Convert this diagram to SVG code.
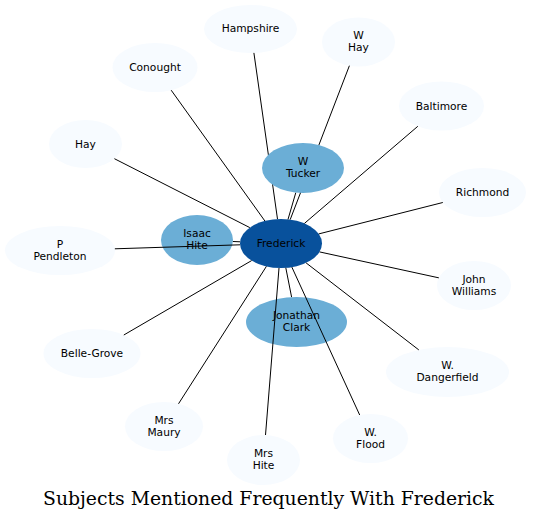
<svg xmlns="http://www.w3.org/2000/svg" width="537" height="521" viewBox="0 0 537 521">
<style>
.n text{font-family:"DejaVu Sans",sans-serif;font-size:10.67px;text-anchor:middle;fill:#000}
.light ellipse{fill:#f7fbff}
.mid ellipse{fill:#6baed6}
.dark ellipse{fill:#08519c}
#connectors line{stroke:#000;stroke-width:1}
.title{font-family:"DejaVu Serif",serif;font-size:18.5px;text-anchor:middle;fill:#000}
</style>
<rect width="537" height="521" fill="#fff"/>
<g id="node-hampshire" class="n light"><ellipse cx="250.5" cy="29" rx="46.5" ry="24"/><text x="250.5" y="32">Hampshire</text></g>
<g id="node-conought" class="n light"><ellipse cx="155" cy="67.5" rx="42.5" ry="24.5"/><text x="155" y="71">Conought</text></g>
<g id="node-hay" class="n light"><ellipse cx="85.5" cy="144" rx="36.5" ry="24"/><text x="85.5" y="147.5">Hay</text></g>
<g id="node-ppendleton" class="n light"><ellipse cx="60" cy="250.5" rx="55" ry="24.5"/><text x="60" y="247.5">P</text><text x="60" y="259.5">Pendleton</text></g>
<g id="node-bellegrove" class="n light"><ellipse cx="92" cy="353.5" rx="48.5" ry="24.5"/><text x="92" y="357">Belle-Grove</text></g>
<g id="node-mrsmaury" class="n light"><ellipse cx="164" cy="426.5" rx="39" ry="24.5"/><text x="164" y="423.5">Mrs</text><text x="164" y="435.5">Maury</text></g>
<g id="node-mrshite" class="n light"><ellipse cx="263.5" cy="460" rx="36.5" ry="25"/><text x="263.5" y="457">Mrs</text><text x="263.5" y="469">Hite</text></g>
<g id="node-wflood" class="n light"><ellipse cx="370.5" cy="438.5" rx="37.5" ry="24.5"/><text x="370.5" y="435.5">W.</text><text x="370.5" y="447.5">Flood</text></g>
<g id="node-wdangerfield" class="n light"><ellipse cx="447.5" cy="372" rx="61.5" ry="25"/><text x="447.5" y="369">W.</text><text x="447.5" y="381">Dangerfield</text></g>
<g id="node-johnwilliams" class="n light"><ellipse cx="474" cy="285.5" rx="37" ry="24.5"/><text x="474" y="282.5">John</text><text x="474" y="294.5">Williams</text></g>
<g id="node-richmond" class="n light"><ellipse cx="482.5" cy="192.5" rx="43.5" ry="24.5"/><text x="482.5" y="196">Richmond</text></g>
<g id="node-baltimore" class="n light"><ellipse cx="441.5" cy="106" rx="42.5" ry="24.5"/><text x="441.5" y="109.5">Baltimore</text></g>
<g id="node-whay" class="n light"><ellipse cx="358.5" cy="42" rx="36.5" ry="24.5"/><text x="358.5" y="39">W</text><text x="358.5" y="51">Hay</text></g>
<g id="node-isaachite" class="n mid"><ellipse cx="197" cy="240" rx="36" ry="25"/><text x="197" y="237">Isaac</text><text x="197" y="249">Hite</text></g>
<g id="node-jonathanclark" class="n mid"><ellipse cx="296.5" cy="322" rx="50.5" ry="25"/><text x="296.5" y="319">Jonathan</text><text x="296.5" y="331">Clark</text></g>
<g id="node-frederick" class="n dark"><ellipse cx="281" cy="243.5" rx="41" ry="24.5"/><text x="281" y="247">Frederick</text></g>
<g id="connectors">
<line x1="277.5" y1="219.1" x2="253.9" y2="52.9"/>
<line x1="264.9" y1="221.0" x2="171.2" y2="90.2"/>
<line x1="249.8" y1="227.6" x2="114.4" y2="158.7"/>
<line x1="240.05" y1="244.8" x2="114.85" y2="248.8"/>
<line x1="240.1" y1="241.8" x2="232.9" y2="241.5"/>
<line x1="251.6" y1="260.6" x2="123.8" y2="335.0"/>
<line x1="266.4" y1="266.4" x2="178.5" y2="403.8"/>
<line x1="279.0" y1="268.0" x2="265.5" y2="435.0"/>
<line x1="285.8" y1="267.8" x2="291.6" y2="297.1"/>
<line x1="291.85" y1="267.1" x2="359.7" y2="415.0"/>
<line x1="306.1" y1="262.9" x2="418.8" y2="349.9"/>
<line x1="319.5" y1="251.9" x2="438.85" y2="277.85"/>
<line x1="318.8" y1="233.9" x2="442.8" y2="202.5"/>
<line x1="304.45" y1="223.4" x2="417.8" y2="126.3"/>
<line x1="290.2" y1="219.6" x2="349.4" y2="65.7"/>
<line x1="288.0" y1="219.4" x2="295.8" y2="192.6"/>
</g>
<g id="node-wtucker" class="n mid"><ellipse cx="303" cy="168" rx="41" ry="25"/><text x="303" y="165">W</text><text x="303" y="177">Tucker</text></g>
<text class="title" x="268.5" y="505" textLength="451" lengthAdjust="spacingAndGlyphs">Subjects Mentioned Frequently With Frederick</text>
</svg>
